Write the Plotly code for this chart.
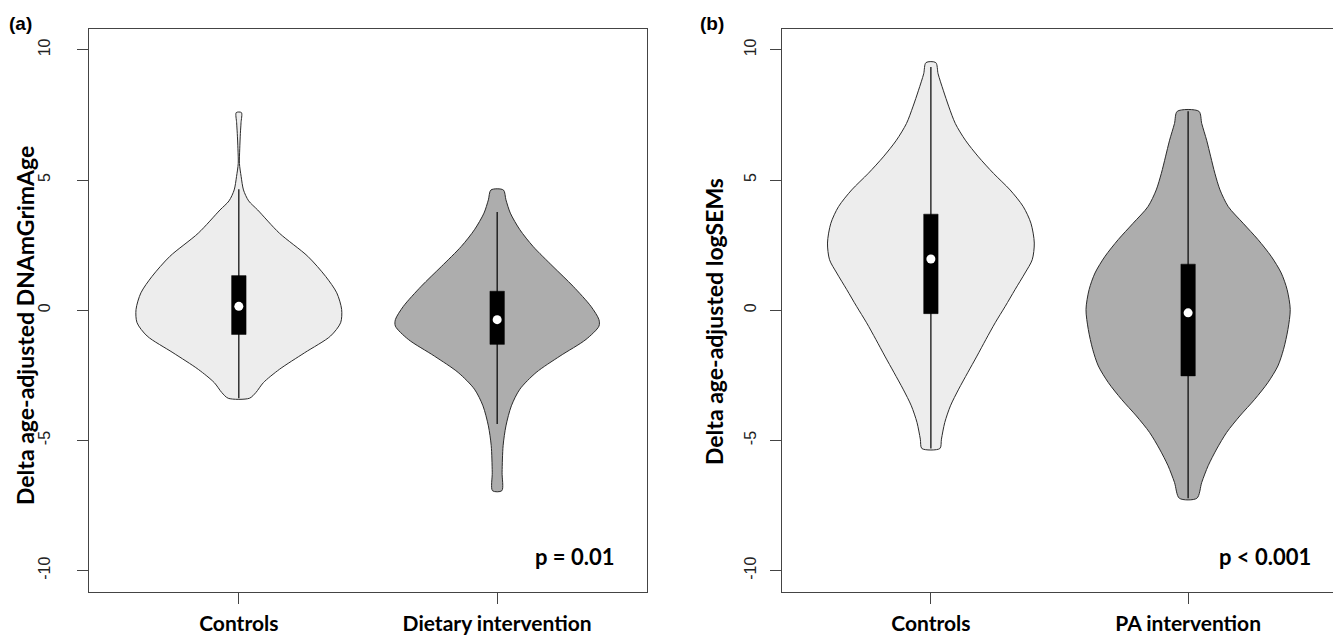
import plotly.graph_objects as go

# page body has an 8px default margin, so the figure is sized to fit the window
OFF = 8
W, H = 1341 - OFF, 636 - OFF

# ---------------- data ----------------
groups_a = ["Controls", "Dietary intervention"]
groups_b = ["Controls", "PA intervention"]
y_ticks = [-10, -5, 0, 5, 10]
y_ticktext = ["-10", "-5", "0", "5", "10"]

# violin outlines: y levels and half-widths (x-axis units)
a_ctrl_y = [7.59, 7.2, 6.79, 6.2, 5.64, 5.13, 4.62, 4.2, 3.85, 2.96, 2.07, 1.30, 0.67, 0.03,
            -0.48, -0.99, -1.63, -2.27, -2.78, -3.16, -3.38]
a_ctrl_w = [0.010, 0.0085, 0.006, 0.0035, 0.0023, 0.009, 0.018, 0.038, 0.073, 0.157, 0.267,
            0.336, 0.379, 0.398, 0.394, 0.355, 0.255, 0.157, 0.095, 0.066, 0.041]

a_diet_y = [4.62, 4.24, 3.73, 3.09, 2.45, 1.68, 0.92, 0.15, -0.36, -0.61, -1.12, -1.76, -2.39,
            -3.03, -3.67, -4.44, -5.2, -6.22, -6.93]
a_diet_w = [0.024, 0.034, 0.051, 0.088, 0.139, 0.216, 0.294, 0.363, 0.394, 0.394, 0.344, 0.243,
            0.151, 0.088, 0.055, 0.034, 0.023, 0.019, 0.018]

b_ctrl_y = [9.51, 9.08, 8.45, 7.81, 7.17, 6.53, 5.89, 5.26, 4.62, 3.98, 3.34, 2.58, 1.94, 1.43,
            0.79, 0.15, -0.48, -1.12, -1.76, -2.40, -3.03, -3.67, -4.31, -4.95, -5.31]
b_ctrl_w = [0.019, 0.028, 0.048, 0.070, 0.095, 0.134, 0.185, 0.243, 0.308, 0.359, 0.389, 0.402,
            0.394, 0.366, 0.327, 0.289, 0.250, 0.214, 0.179, 0.143, 0.108, 0.076, 0.054, 0.041, 0.035]

b_pa_y = [7.64, 7.17, 6.53, 5.89, 5.26, 4.62, 3.98, 3.34, 2.71, 2.07, 1.43, 0.79, 0.03, -0.74,
          -1.50, -2.14, -2.78, -3.42, -4.06, -4.69, -5.33, -5.97, -6.61, -7.22]
b_pa_w = [0.042, 0.053, 0.072, 0.088, 0.104, 0.124, 0.156, 0.214, 0.272, 0.323, 0.362, 0.385,
          0.397, 0.388, 0.371, 0.349, 0.310, 0.259, 0.201, 0.150, 0.111, 0.078, 0.053, 0.034]

# box statistics: [whisker low, q1, median, q3, whisker high]
a_ctrl_box = [-3.38, -0.93, 0.15, 1.33, 4.65]
a_diet_box = [-4.37, -1.31, -0.36, 0.73, 3.77]
b_ctrl_box = [-5.31, -0.13, 1.97, 3.69, 9.34]
b_pa_box = [-7.22, -2.52, -0.10, 1.77, 7.64]

p_a = "p = 0.01"
p_b = "p < 0.001"
ylab_a = "Delta age-adjusted DNAmGrimAge"
ylab_b = "Delta age-adjusted logSEMs"

# ---------------- styling ----------------
LIGHT = "#EDEDED"
DARK = "#ADADAD"
OUTLINE = "#2b2b2b"
AXIS = "#444444"
BOLD_FONT = "Lato"
BOX_HW = 0.028


def px_x(v):
    return (v - OFF) / W


def px_y(v):
    return 1 - (v - OFF) / H


fig = go.Figure()


def add_violin(xref, yref, center, ys, ws, box, fill):
    xs = [center + w for w in ws] + [center - w for w in reversed(ws)]
    yy = list(ys) + list(reversed(ys))
    xs.append(xs[0])
    yy.append(yy[0])
    fig.add_trace(go.Scatter(x=xs, y=yy, xaxis=xref, yaxis=yref, mode="lines",
                             fill="toself", fillcolor=fill,
                             line=dict(color=OUTLINE, width=1, shape="spline", smoothing=0.8),
                             hoverinfo="skip", showlegend=False))
    lo, q1, med, q3, hi = box
    fig.add_trace(go.Scatter(x=[center, center], y=[lo, hi], xaxis=xref, yaxis=yref,
                             mode="lines", line=dict(color="black", width=1.2),
                             hoverinfo="skip", showlegend=False))
    fig.add_trace(go.Scatter(x=[center - BOX_HW, center + BOX_HW, center + BOX_HW,
                                center - BOX_HW, center - BOX_HW],
                             y=[q1, q1, q3, q3, q1], xaxis=xref, yaxis=yref,
                             mode="lines", fill="toself", fillcolor="black",
                             line=dict(color="black", width=0.5),
                             hoverinfo="skip", showlegend=False))
    fig.add_trace(go.Scatter(x=[center], y=[med], xaxis=xref, yaxis=yref, mode="markers",
                             marker=dict(color="white", size=9, line=dict(width=0)),
                             hoverinfo="skip", showlegend=False))


add_violin("x", "y", 1, a_ctrl_y, a_ctrl_w, a_ctrl_box, LIGHT)
add_violin("x", "y", 2, a_diet_y, a_diet_w, a_diet_box, DARK)
add_violin("x2", "y2", 1, b_ctrl_y, b_ctrl_w, b_ctrl_box, LIGHT)
add_violin("x2", "y2", 2, b_pa_y, b_pa_w, b_pa_box, DARK)

ydom = [px_y(591.5), px_y(29)]

xcommon = dict(range=[0.42, 2.58], tickvals=[1, 2], ticks="outside", ticklen=11,
               tickcolor=AXIS, tickwidth=1.2, showline=True, linecolor=AXIS, linewidth=1.3,
               mirror=True, showgrid=False, zeroline=False,
               tickfont=dict(family=BOLD_FONT, size=21, color="black", weight="bold"),
               ticklabelstandoff=2)
ycommon = dict(range=[-10.8, 10.8], tickvals=y_ticks, ticktext=y_ticktext, ticks="outside",
               ticklen=11, tickcolor=AXIS, tickwidth=1.2, showline=True, linecolor=AXIS,
               linewidth=1.3, mirror=True, showgrid=False, zeroline=False, tickangle=-90,
               tickfont=dict(family="Liberation Sans", size=16, color="#222222"),
               domain=ydom)

xa = dict(xcommon); xa.update(domain=[px_x(89), px_x(647)], ticktext=groups_a, anchor="y")
xb = dict(xcommon); xb.update(domain=[px_x(781.7), px_x(1337.3)], ticktext=groups_b, anchor="y2")
ya = dict(ycommon); ya.update(anchor="x", ticklabelstandoff=20)
yb = dict(ycommon); yb.update(anchor="x2", ticklabelstandoff=7)

fig.update_layout(
    width=W, height=H, margin=dict(l=0, r=0, t=0, b=0, autoexpand=False),
    paper_bgcolor="white", plot_bgcolor="white",
    xaxis=xa, yaxis=ya, xaxis2=xb, yaxis2=yb,
)

common_ann = dict(xref="paper", yref="paper", showarrow=False, xanchor="center", yanchor="middle")
annots = [
    dict(text="<b>(a)</b>", x=px_x(20), y=px_y(23),
         font=dict(family="Liberation Sans", size=19, color="black"), **common_ann),
    dict(text="<b>(b)</b>", x=px_x(712), y=px_y(23),
         font=dict(family="Liberation Sans", size=19, color="black"), **common_ann),
    dict(text="<b>" + ylab_a + "</b>", x=px_x(25), y=px_y(326), textangle=-90,
         font=dict(family=BOLD_FONT, size=23, color="black"), **common_ann),
    dict(text="<b>" + ylab_b + "</b>", x=px_x(714), y=px_y(322), textangle=-90,
         font=dict(family=BOLD_FONT, size=23, color="black"), **common_ann),
    dict(text="<b>" + p_a + "</b>", x=2.46, y=-9.45, xref="x", yref="y", xanchor="right",
         yanchor="middle", showarrow=False, font=dict(family=BOLD_FONT, size=22, color="black")),
    dict(text="<b>" + p_b + "</b>", x=2.485, y=-9.45, xref="x2", yref="y2", xanchor="right",
         yanchor="middle", showarrow=False, font=dict(family=BOLD_FONT, size=22, color="black")),
]
fig.update_layout(annotations=annots)

fig.write_html("out.html")
